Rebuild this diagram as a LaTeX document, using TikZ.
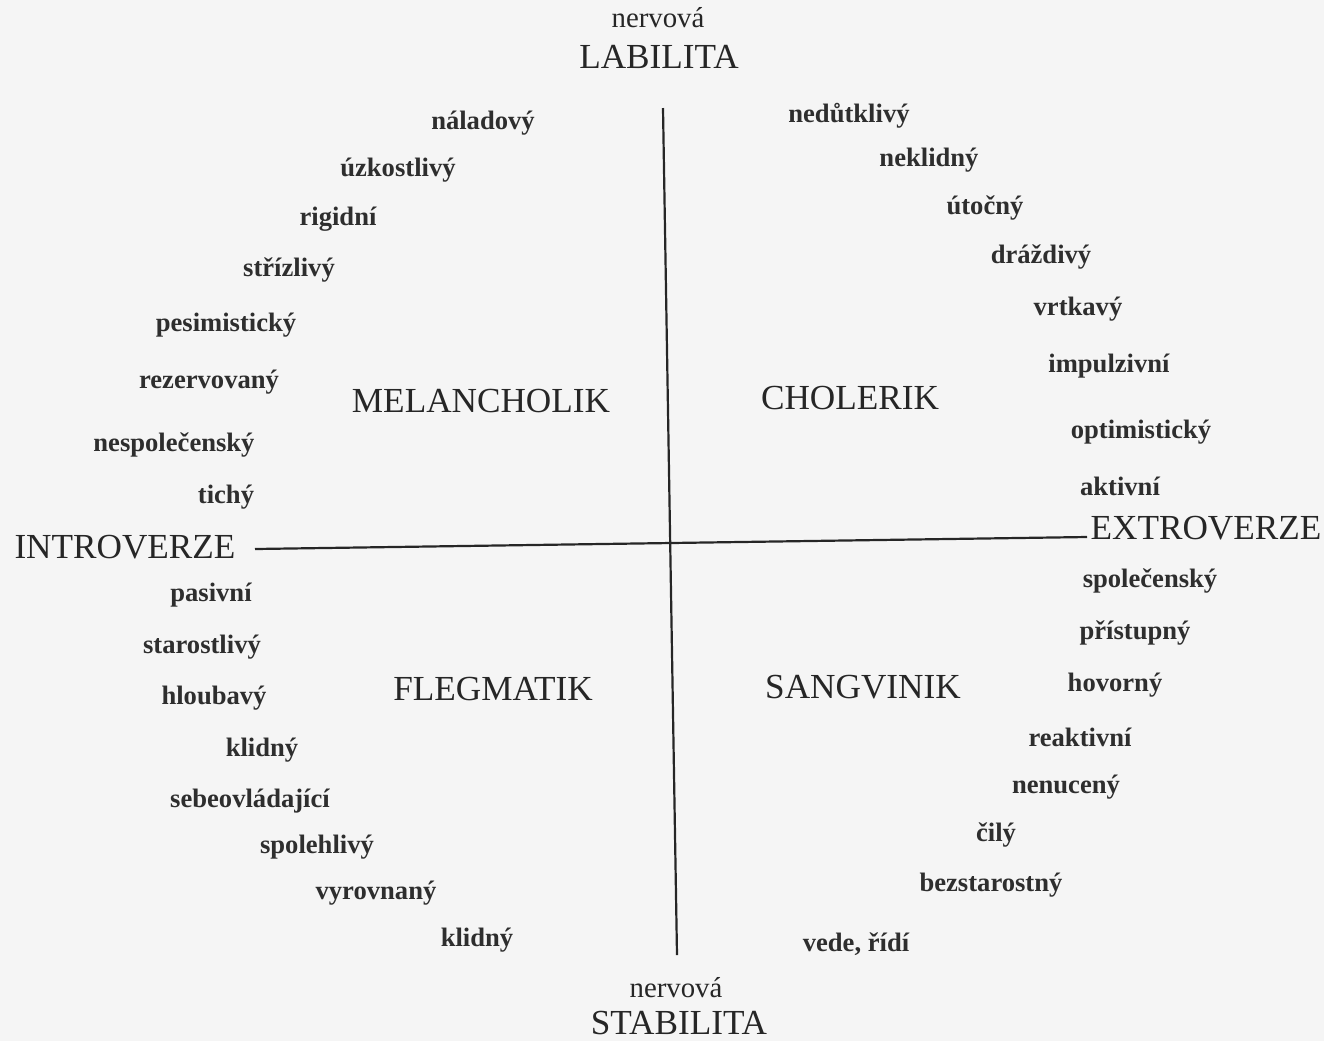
\documentclass[tikz,border=0pt]{standalone}
\usepackage{fontspec}
\setmainfont{Liberation Serif}
\usepackage{tikz}
\usetikzlibrary{shapes,arrows}
\tikzstyle{trait} = [font=\fontsize{13.3}{15}\selectfont\bfseries, text=black!82, inner sep=0pt]
\tikzstyle{temper} = [font=\fontsize{17.6}{20}\selectfont, text=black!85, inner sep=0pt]
\tikzstyle{pole} = [font=\fontsize{14.4}{16}\selectfont, text=black!85, inner sep=0pt]
\tikzstyle{axis} = [draw, line width=1.1pt, black!85]

\begin{document}
\begin{tikzpicture}[x=0.5pt,y=-0.5pt]
\fill[black!4] (0,0) rectangle (1324,1041);
\useasboundingbox (0,0) rectangle (1324,1041);
% axes
\coordinate (vtop) at (663,108);
\coordinate (vbot) at (677,955);
\coordinate (hleft) at (255,549);
\coordinate (hright) at (1087,537);
\draw[axis] (vtop) -- (vbot);
\draw[axis] (hleft) -- (hright);
%
\node[pole] (labn) at (658,18) {nervová};
\node[temper] (lab) at (659,57) {LABILITA};
\node[pole] (stabn) at (676,988) {nervová};
\node[temper] (stab) at (679,1023) {STABILITA};
\node[temper] (intro) at (125,547) {INTROVERZE};
\node[temper] (extro) at (1206,528) {EXTROVERZE};
%
\node[temper] (mel) at (481,401) {MELANCHOLIK};
\node[temper] (chol) at (850,398) {CHOLERIK};
\node[temper] (fleg) at (493,689) {FLEGMATIK};
\node[temper] (sang) at (863,687) {SANGVINIK};
%
\node[trait] (m1) at (483,123) {náladový};
\node[trait] (m2) at (398,170) {úzkostlivý};
\node[trait] (m3) at (338,219) {rigidní};
\node[trait] (m4) at (289,270) {střízlivý};
\node[trait] (m5) at (226,325) {pesimistický};
\node[trait] (m6) at (209,382) {rezervovaný};
\node[trait] (m7) at (174,445) {nespolečenský};
\node[trait] (m8) at (226,497) {tichý};
%
\node[trait] (c1) at (849,116) {nedůtklivý};
\node[trait] (c2) at (929,160) {neklidný};
\node[trait] (c3) at (985,208) {útočný};
\node[trait] (c4) at (1041,257) {dráždivý};
\node[trait] (c5) at (1078,309) {vrtkavý};
\node[trait] (c6) at (1109,366) {impulzivní};
\node[trait] (c7) at (1141,432) {optimistický};
\node[trait] (c8) at (1120,486) {aktivní};
%
\node[trait] (f1) at (211,595) {pasivní};
\node[trait] (f2) at (202,647) {starostlivý};
\node[trait] (f3) at (214,698) {hloubavý};
\node[trait] (f4) at (262,750) {klidný};
\node[trait] (f5) at (250,801) {sebeovládající};
\node[trait] (f6) at (317,847) {spolehlivý};
\node[trait] (f7) at (376,893) {vyrovnaný};
\node[trait] (f8) at (477,940) {klidný};
%
\node[trait] (s1) at (1150,581) {společenský};
\node[trait] (s2) at (1135,633) {přístupný};
\node[trait] (s3) at (1115,685) {hovorný};
\node[trait] (s4) at (1080,737) {reaktivní};
\node[trait] (s5) at (1066,787) {nenucený};
\node[trait] (s6) at (996,835) {čilý};
\node[trait] (s7) at (991,885) {bezstarostný};
\node[trait] (s8) at (856,944) {vede, řídí};
\end{tikzpicture}
\end{document}
